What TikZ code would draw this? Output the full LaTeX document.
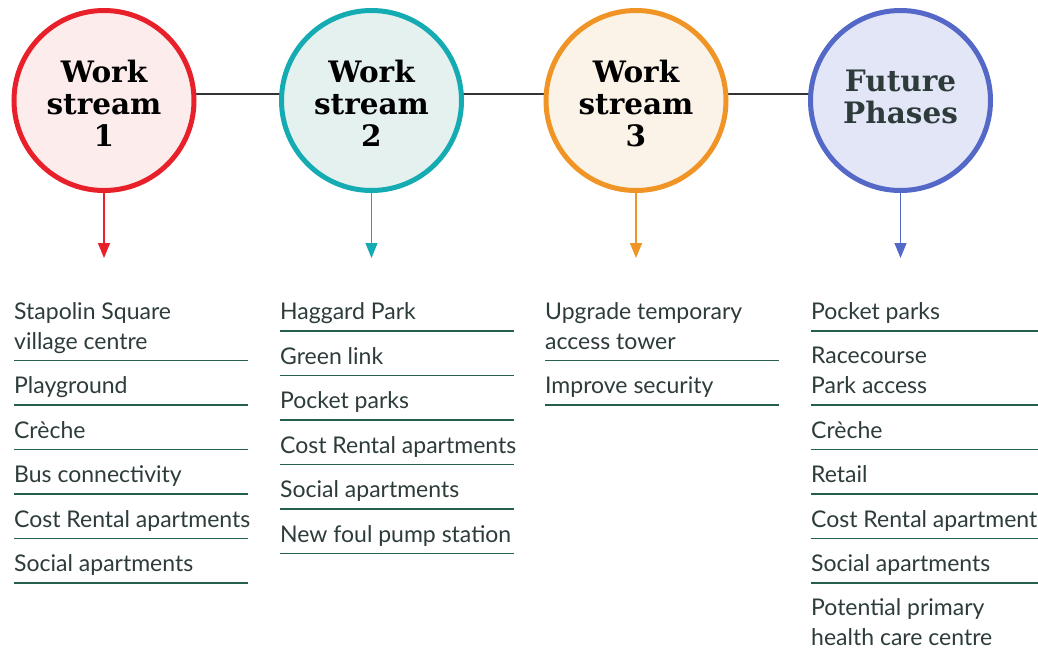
\documentclass[tikz,border=0pt]{standalone}
\usepackage{fontspec}
\setmainfont{Lato}
\newfontfamily\titlefont{DejaVu Serif}[BoldFont={* Bold}]
\usetikzlibrary{arrows.meta,backgrounds}
\definecolor{cred}{HTML}{E8202A}
\definecolor{cteal}{HTML}{14ACB2}
\definecolor{corange}{HTML}{EF9425}
\definecolor{cblue}{HTML}{5468C8}
\definecolor{fred}{HTML}{FCECEC}
\definecolor{fteal}{HTML}{E5F1EF}
\definecolor{forange}{HTML}{FBF3E8}
\definecolor{fblue}{HTML}{E3E6F6}
\definecolor{txt}{HTML}{2D3B3B}
\definecolor{rulegreen}{HTML}{24604A}
\definecolor{linkgray}{HTML}{333333}
\tikzset{
  stream/.style={circle,minimum size=180pt,inner sep=0pt,line width=5pt},
  title/.style={font=\titlefont\bfseries\fontsize{29.5}{32}\selectfont,align=center},
  item/.style={anchor=base west,inner sep=0pt,align=left,text=txt,font=\fontsize{23}{30}\selectfont},
  rulel/.style={draw=rulegreen,line width=1.2pt},
  down/.style={line width=1.3pt,-{Triangle[width=12pt,length=15pt]}},
}
\begin{document}
\begin{tikzpicture}[x=1pt,y=-1pt]
\useasboundingbox (0,0) rectangle (1038,654);
\clip (0,0) rectangle (1038,654);
% circles
\node[stream,draw=cred,fill=fred] (c1) at (104,100.5) {};
\node[stream,draw=cteal,fill=fteal] (c2) at (371.5,100.5) {};
\node[stream,draw=corange,fill=forange] (c3) at (636,100.5) {};
\node[stream,draw=cblue,fill=fblue] (c4) at (900.5,100.5) {};
\begin{pgfonlayer}{background}
\draw[linkgray,line width=1.5pt] ([yshift=6.5pt]c1.center) -- ([yshift=6.5pt]c4.center);
\end{pgfonlayer}
\node[title] (t1) at (104,103) {Work\\stream\\1};
\node[title] (t2) at (371.5,103) {Work\\stream\\2};
\node[title] (t3) at (636,103) {Work\\stream\\3};
\node[title,text=txt] (t4) at (900.5,97) {Future\\Phases};
% arrows
\coordinate (a1) at (104,258);
\coordinate (a2) at (371.5,258);
\coordinate (a3) at (636,258);
\coordinate (a4) at (900.5,258);
\draw[down,cred] (c1.south) -- (a1);
\draw[down,cteal] (c2.south) -- (a2);
\draw[down,corange] (c3.south) -- (a3);
\draw[down,cblue] (c4.south) -- (a4);
% column 1
\node[item] (i11) at (14,349) {Stapolin Square\\village centre};
\draw[rulel] (14,360.5) -- (248,360.5);
\node[item] (i12) at (14,393.5) {Playground};
\draw[rulel] (14,405) -- (248,405);
\node[item] (i13) at (14,438) {Crèche};
\draw[rulel] (14,449.5) -- (248,449.5);
\node[item] (i14) at (14,482.5) {Bus connectivity};
\draw[rulel] (14,494) -- (248,494);
\node[item] (i15) at (14,527) {Cost Rental apartments};
\draw[rulel] (14,538.5) -- (248,538.5);
\node[item] (i16) at (14,571.5) {Social apartments};
\draw[rulel] (14,583) -- (248,583);
% column 2
\node[item] (i21) at (280,319) {Haggard Park};
\draw[rulel] (280,331) -- (514,331);
\node[item] (i22) at (280,364) {Green link};
\draw[rulel] (280,375.5) -- (514,375.5);
\node[item] (i23) at (280,408.5) {Pocket parks};
\draw[rulel] (280,420) -- (514,420);
\node[item] (i24) at (280,453) {Cost Rental apartments};
\draw[rulel] (280,464.5) -- (514,464.5);
\node[item] (i25) at (280,497.5) {Social apartments};
\draw[rulel] (280,509) -- (514,509);
\node[item] (i26) at (280,542) {New foul pump station};
\draw[rulel] (280,553.5) -- (514,553.5);
% column 3
\node[item] (i31) at (545,349) {Upgrade temporary\\access tower};
\draw[rulel] (545,360.5) -- (779,360.5);
\node[item] (i32) at (545,393.5) {Improve security};
\draw[rulel] (545,405) -- (779,405);
% column 4
\node[item] (i41) at (811,319) {Pocket parks};
\draw[rulel] (811,331) -- (1045,331);
\node[item] (i42) at (811,393.5) {Racecourse\\Park access};
\draw[rulel] (811,405) -- (1045,405);
\node[item] (i43) at (811,438) {Crèche};
\draw[rulel] (811,449.5) -- (1045,449.5);
\node[item] (i44) at (811,482.5) {Retail};
\draw[rulel] (811,494) -- (1045,494);
\node[item] (i45) at (811,527) {Cost Rental apartments};
\draw[rulel] (811,538.5) -- (1045,538.5);
\node[item] (i46) at (811,571.5) {Social apartments};
\draw[rulel] (811,583) -- (1045,583);
\node[item] (i47) at (811,645.5) {Potential primary\\health care centre};
\end{tikzpicture}
\end{document}
